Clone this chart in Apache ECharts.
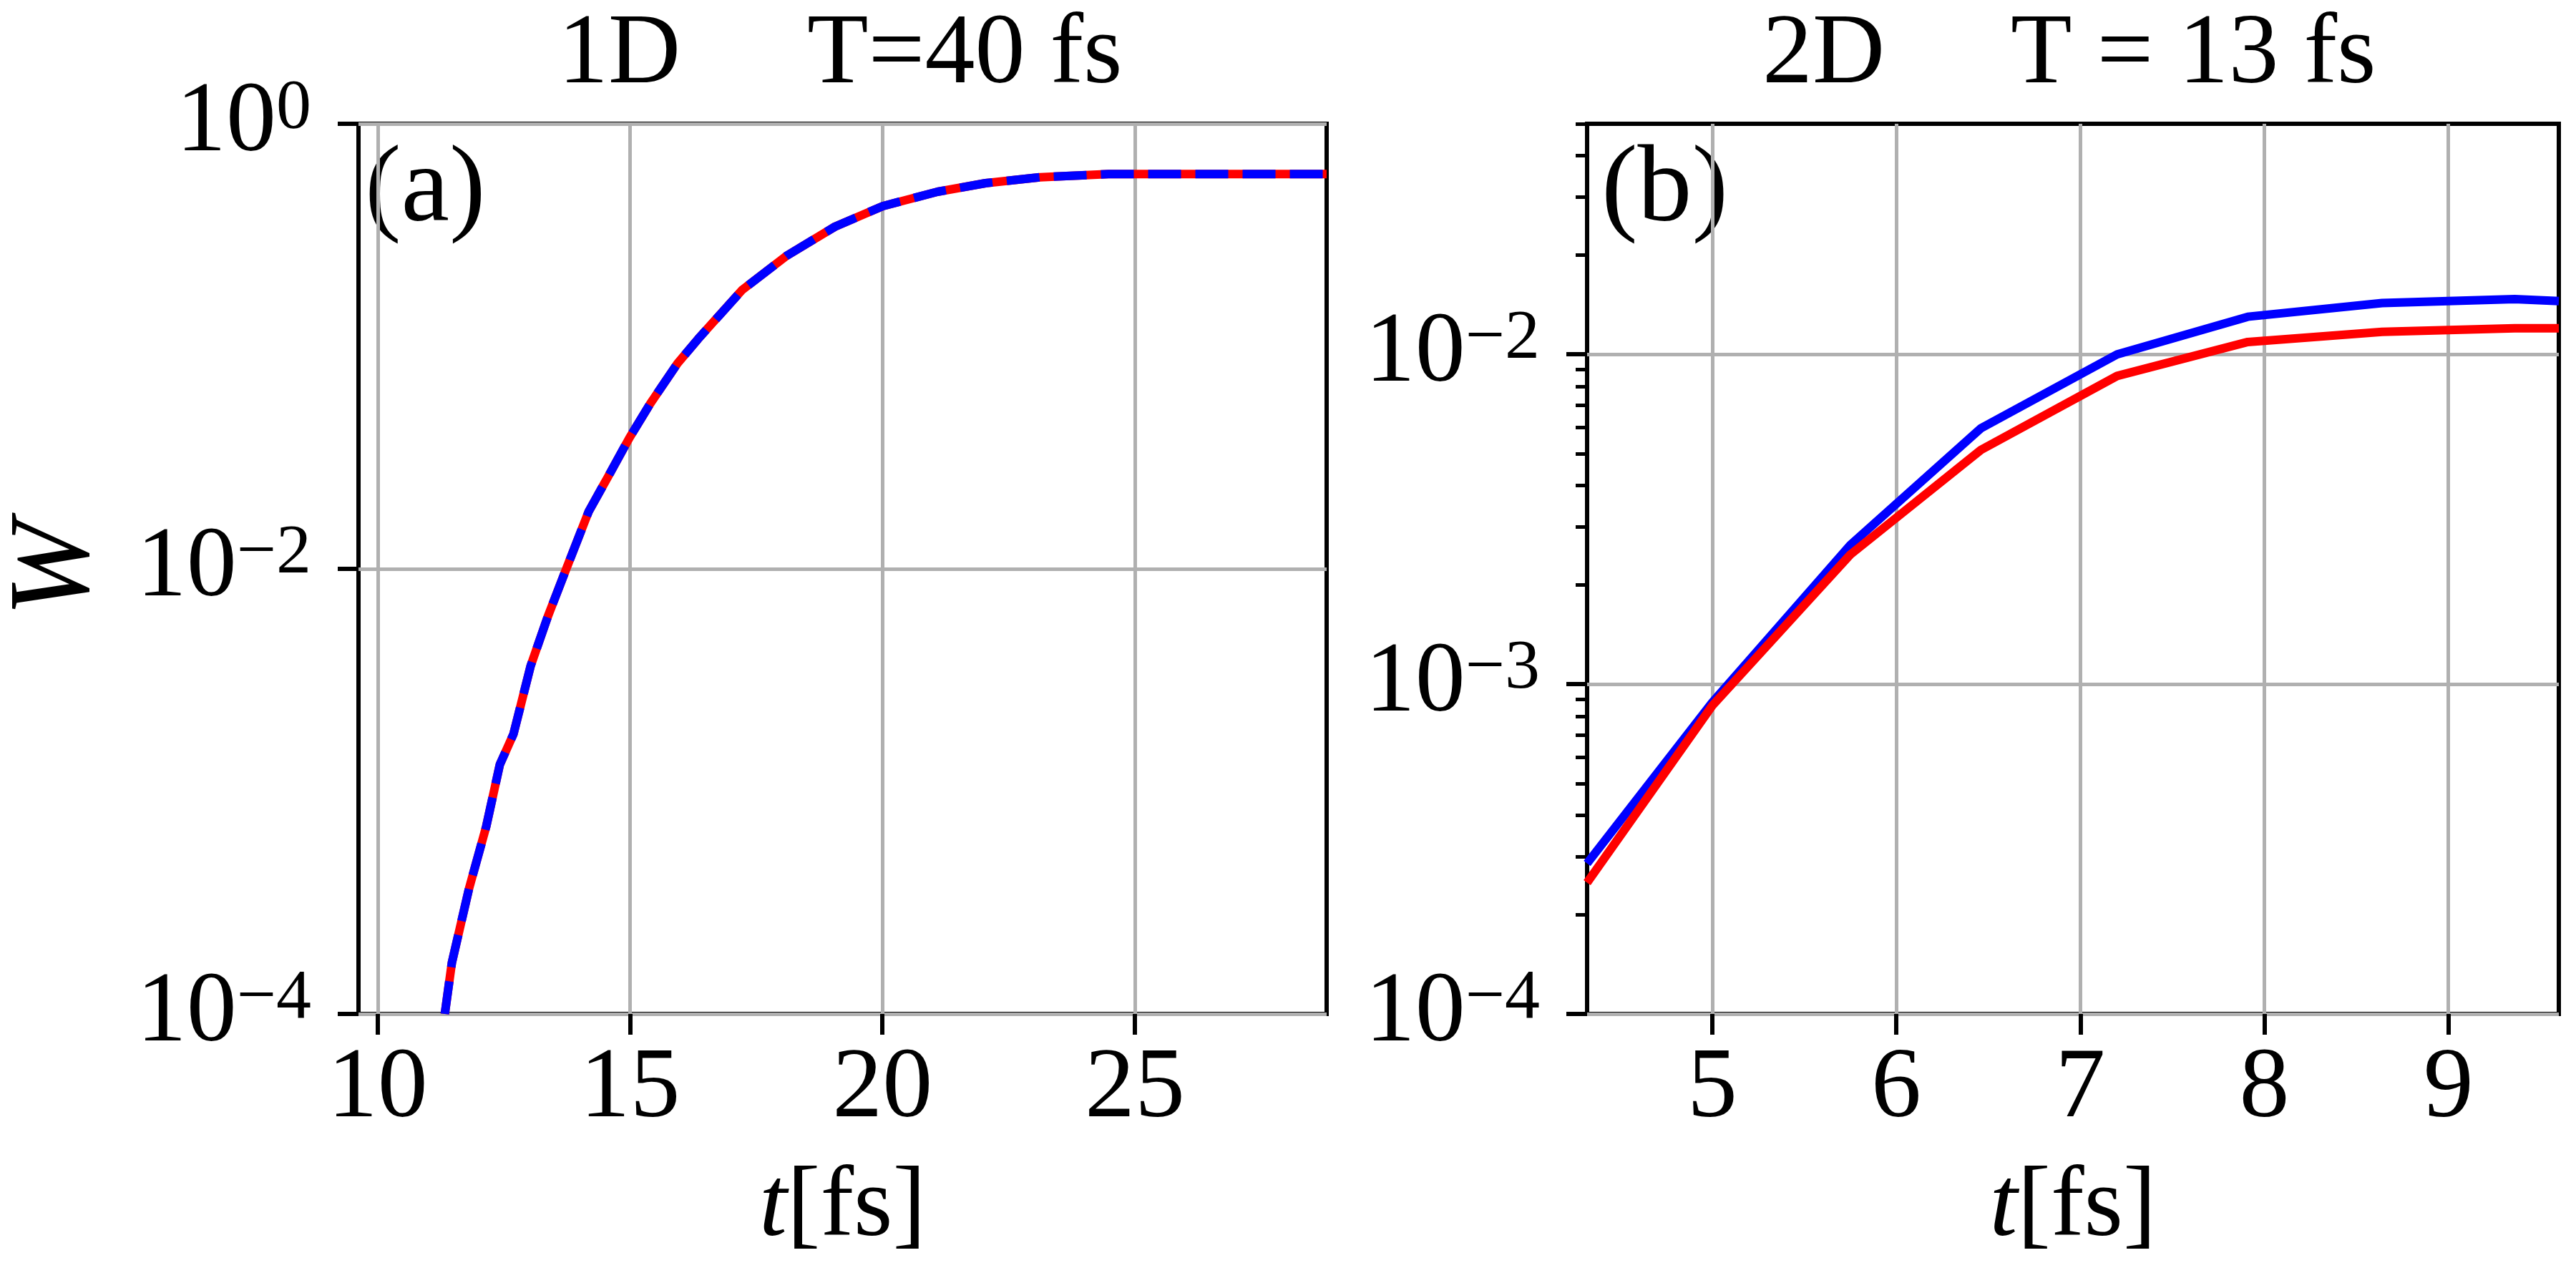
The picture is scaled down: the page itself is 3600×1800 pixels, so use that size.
<!DOCTYPE html>
<html>
<head>
<meta charset="utf-8">
<script src="https://cdn.jsdelivr.net/npm/echarts@6/dist/echarts.min.js"></script>
<style>
  html, body { margin: 0; padding: 0; background: #fff; }
  #main { width: 3600px; height: 1800px; }
</style>
</head>
<body>
<div id="main"></div>
<script>
// panel (a): 1D, T = 40 fs (red solid and blue dashed lie on top of each other)
const tA = [11.33, 11.47, 11.81, 12.15, 12.42, 12.69, 13.03, 13.37, 13.70, 14.18, 14.52, 14.99,
            15.40, 15.94, 16.35, 17.22, 18.11, 19.06, 20.01, 21.09, 22.04, 23.12, 24.48, 28.8];
const wA = [1.0e-4, 1.70e-4, 3.66e-4, 6.95e-4, 1.32e-3, 1.81e-3, 3.66e-3, 6.10e-3, 9.53e-3, 1.81e-2,
            2.49e-2, 3.89e-2, 5.53e-2, 8.38e-2, 0.108, 0.179, 0.256, 0.345, 0.427, 0.495, 0.541,
            0.575, 0.594, 0.594];

// panel (b): 2D, T = 13 fs
const tB = [4.32, 5.0, 5.75, 6.46, 7.2, 7.91, 8.64, 9.36, 9.6];
const wBblue = [2.86e-4, 8.8e-4, 2.64e-3, 5.97e-3, 1.0e-2, 1.30e-2, 1.43e-2, 1.47e-2, 1.45e-2];
const wBred = [2.5e-4, 8.6e-4, 2.47e-3, 5.13e-3, 8.6e-3, 1.09e-2, 1.17e-2, 1.20e-2, 1.20e-2];

// ticks
const xTicksA = [10, 15, 20, 25];
const xTicksB = [5, 6, 7, 8, 9];
const yMajorA = [1e-4, 1e-2, 1];
const yMajorB = [1e-4, 1e-3, 1e-2];
const yMinorB = [2e-4, 3e-4, 4e-4, 5e-4, 6e-4, 7e-4, 8e-4, 9e-4,
                 2e-3, 3e-3, 4e-3, 5e-3, 6e-3, 7e-3, 8e-3, 9e-3,
                 2e-2, 3e-2, 4e-2, 5e-2];

const SERIF = 'Liberation Serif';
const FS = 140;

function pairs(xs, ys) {
  return xs.map((x, i) => [x, ys[i]]);
}

function powLabel(v) {
  const e = Math.round(Math.log10(v));
  const exp = e < 0 ? '\u2212' + (-e) : String(e);
  return '{b|10}{s|' + exp + '}';
}
const powRich = {
  b: { fontSize: FS, fontFamily: SERIF, lineHeight: FS, color: '#000' },
  s: { fontSize: 98, fontFamily: SERIF, lineHeight: 70, verticalAlign: 'top', color: '#000' }
};

function xAxisOf(gridIndex, min, max, ticks) {
  return {
    type: 'value',
    gridIndex: gridIndex,
    min: min,
    max: max,
    position: 'bottom',
    axisLine: { show: false, onZero: false },
    axisTick: { show: true, customValues: ticks, length: 29, lineStyle: { color: '#000', width: 6 } },
    axisLabel: { customValues: ticks, margin: 36, fontSize: FS, fontFamily: SERIF, color: '#000' },
    splitLine: { show: true, lineStyle: { color: '#b0b0b0', width: 5 } },
    name: '{i|t}[fs]',
    nameLocation: 'middle',
    nameGap: 202,
    nameTextStyle: {
      fontSize: FS, fontFamily: SERIF, color: '#000',
      rich: { i: { fontSize: FS, fontFamily: SERIF, fontStyle: 'italic', color: '#000' } }
    }
  };
}

function yAxisOf(gridIndex, max, ticks, withName) {
  return {
    type: 'log',
    logBase: 10,
    gridIndex: gridIndex,
    min: 1e-4,
    max: max,
    position: 'left',
    axisLine: { show: false },
    axisTick: { show: true, customValues: ticks, length: 29, lineStyle: { color: '#000', width: 6 } },
    axisLabel: { customValues: ticks, margin: 66, formatter: powLabel, rich: powRich },
    splitLine: { show: true, lineStyle: { color: '#b0b0b0', width: 5 } },
    name: withName ? 'W' : '',
    nameLocation: 'middle',
    nameRotate: 90,
    nameGap: 340,
    nameTextStyle: { fontSize: 160, fontFamily: SERIF, fontStyle: 'italic', color: '#000' }
  };
}

// short ticks only, for the minor decades of panel (b)
function minorAxisOf(gridIndex, max, ticks) {
  return {
    type: 'log',
    logBase: 10,
    gridIndex: gridIndex,
    min: 1e-4,
    max: max,
    position: 'left',
    axisLine: { show: false },
    axisTick: { show: true, customValues: ticks, length: 16, lineStyle: { color: '#000', width: 5 } },
    axisLabel: { show: false },
    splitLine: { show: false }
  };
}

function textEl(text, x, y, size) {
  return {
    type: 'text',
    x: x,
    y: y,
    style: {
      text: text,
      fontSize: size || FS,
      fontFamily: SERIF,
      fill: '#000',
      align: 'left',
      verticalAlign: 'middle'
    }
  };
}

const chart = echarts.init(document.getElementById('main'));
chart.setOption({
  animation: false,
  backgroundColor: '#fff',
  grid: [
    { left: 499, top: 173, width: 1355, height: 1244, show: true, borderColor: '#000', borderWidth: 6 },
    { left: 2218, top: 173, width: 1358, height: 1244, show: true, borderColor: '#000', borderWidth: 6 }
  ],
  xAxis: [
    xAxisOf(0, 9.62, 28.8, xTicksA),
    xAxisOf(1, 4.32, 9.6, xTicksB)
  ],
  yAxis: [
    yAxisOf(0, 1, yMajorA, true),
    yAxisOf(1, 0.05, yMajorB, false),
    minorAxisOf(1, 0.05, yMinorB)
  ],
  graphic: [
    textEl('1D', 780, 78),
    textEl('T=40 fs', 1128, 78),
    textEl('2D', 2463, 78),
    textEl('T = 13 fs', 2810, 78),
    textEl('(a)', 510, 268, 152),
    textEl('(b)', 2238, 268, 152)
  ],
  series: [
    {
      type: 'line', xAxisIndex: 0, yAxisIndex: 0, data: pairs(tA, wA),
      showSymbol: false, z: 3,
      lineStyle: { color: '#ff0000', width: 12, cap: 'butt' }
    },
    {
      type: 'line', xAxisIndex: 0, yAxisIndex: 0, data: pairs(tA, wA),
      showSymbol: false, z: 4,
      lineStyle: { color: '#0000ff', width: 12, type: [46, 20], cap: 'butt' }
    },
    {
      type: 'line', xAxisIndex: 1, yAxisIndex: 1, data: pairs(tB, wBblue),
      showSymbol: false, z: 3,
      lineStyle: { color: '#0000ff', width: 12 }
    },
    {
      type: 'line', xAxisIndex: 1, yAxisIndex: 1, data: pairs(tB, wBred),
      showSymbol: false, z: 4,
      lineStyle: { color: '#ff0000', width: 12 }
    }
  ]
});
</script>
</body>
</html>
